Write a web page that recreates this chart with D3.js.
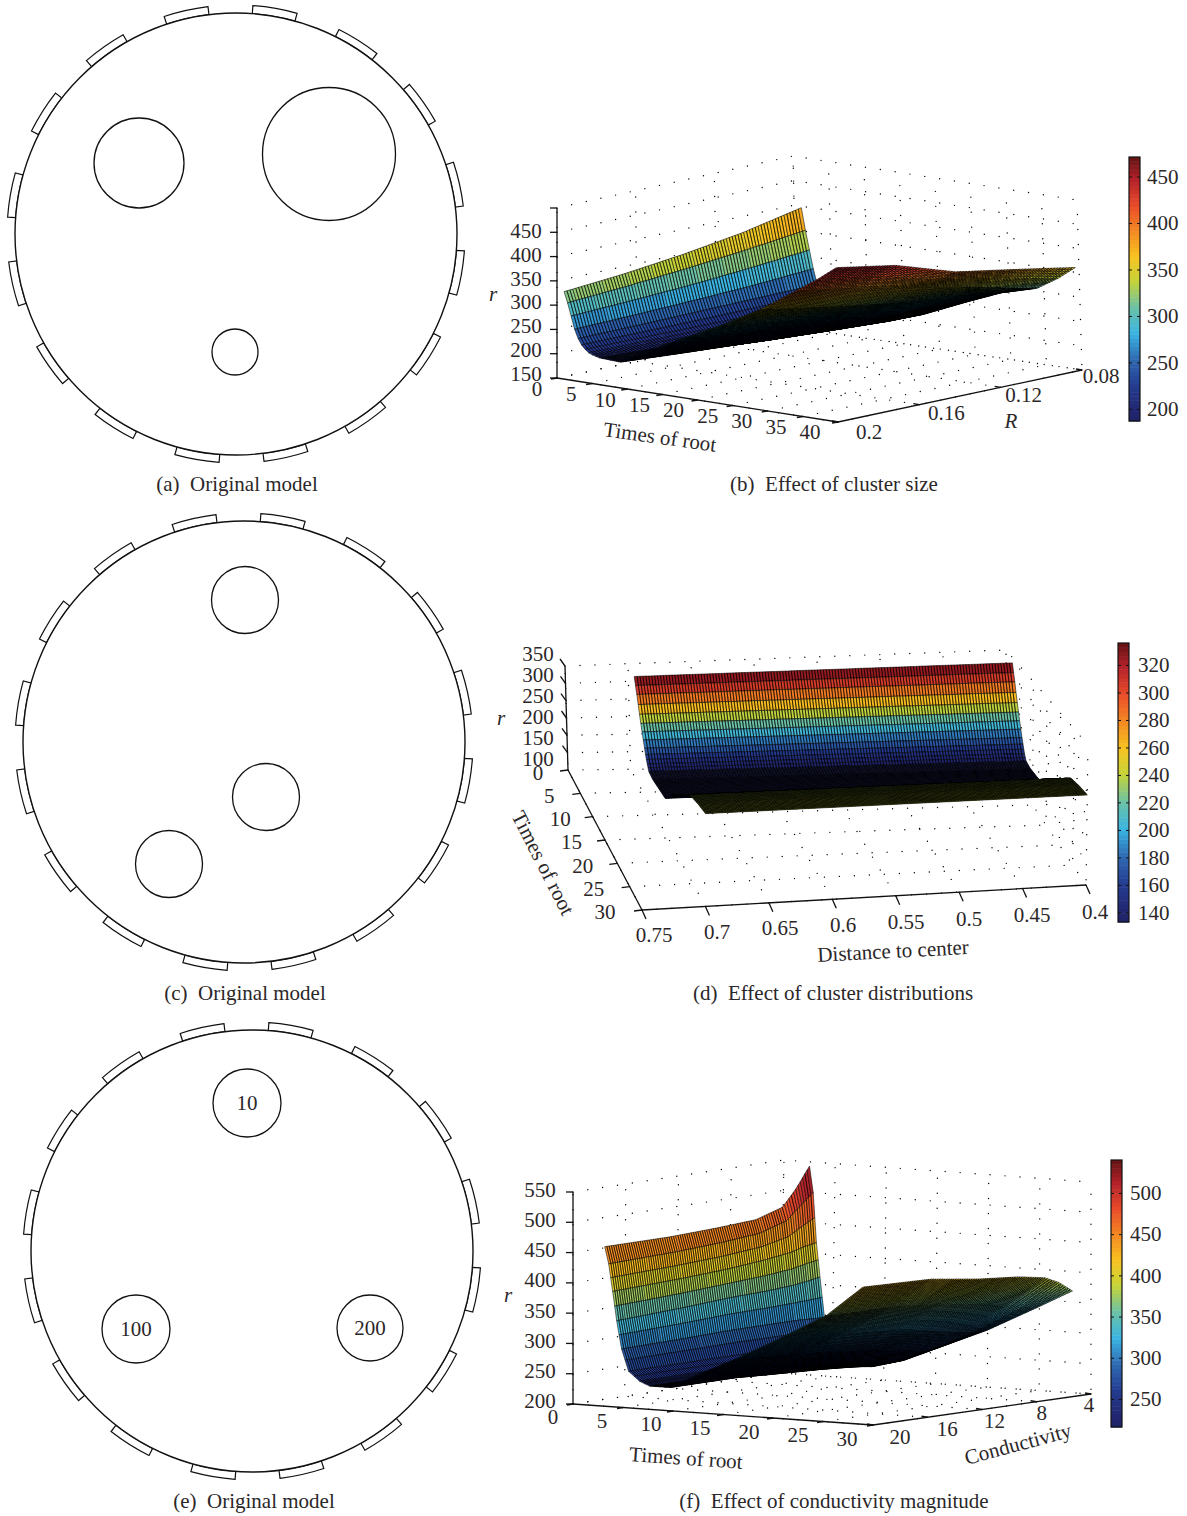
<!DOCTYPE html>
<html>
<head>
<meta charset="utf-8">
<script src="https://cdn.jsdelivr.net/npm/d3@7"></script>
<style>
  body { margin: 0; background: #fff; }
  text { font-family: "Liberation Serif", serif; fill: #2b2729; }
  .tick text { font-family: "Liberation Serif", serif; fill: #2b2729; }
</style>
</head>
<body>
<svg id="fig" width="1187" height="1516"></svg>
<script>
// ---- rotor models (left column) ----
var slotCount = 16;
var slotTurn = -1.4 * Math.PI / 180;
var modelACircles = [[139,163,45,""],[329,154,66.5,""],[235,352,23,""]];
var modelCCircles = [[245,600,33.5,""],[266,797,33.5,""],[169,864,33.5,""]];
var modelECircles = [[247,1103,34,"10"],[136,1329,34,"100"],[370,1328,33,"200"]];

var bTimes = [1,1.5,2,2.5,3,3.5,4,4.5,5,6,9,13,18,24,29,34,37,39.5];
var bSizes = [0.2,0.17,0.14,0.11,0.08];
var bRoot = [
  [330,340,354,372,397],
  [308,316,326,338,352],
  [282,287,293,302,313],
  [256,259,263,268,276],
  [238,239,241,243,245],
  [226,226,226,227,225],
  [218,217,216,214,212],
  [212,211,209,205,202],
  [209,207,203,198,195],
  [205,200,195,190,187],
  [203,195,188,182,180],
  [235,222,205,198,192],
  [272,255,240,225,217],
  [315,295,280,262,255],
  [356,335,315,300,285],
  [405,385,360,335,305],
  [435,415,382,360,332],
  [463,442,403,382,360]
];
var bRows = [1,1,1,1,1,1,1,1,2,10,18,26,30,30,22,8,6];
var bTimeTicks = [0,5,10,15,20,25,30,35,40];
var bSizeTicks = [0.2,0.16,0.12,0.08];
var bRootTicks = [150,200,250,300,350,400,450,500];
var bRootLabels = [150,200,250,300,350,400,450];
var bBarTicks = [200,250,300,350,400,450];

// ---- (d) cluster distributions ----
var dTimes = [2.35,2.8,3.25,3.7,4.15,4.6,5.05,5.5,5.95,6.3,6.6,6.9,7.2,7.5,9,11,14,16,18,20,22,24,27,30];
var dDists = [0.7,0.55,0.4];
var dCurve = [336,315,295,272,250,230,212,195,178,165,155,147,140,134,130,132,135,162,180,200,218,234,240,243];
var dRoot = dCurve.map(function(r){ return [r, r, r]; });
var dRows = [1,1,1,1,1,1,1,1,1,1,1,1,1,10,14,20,6,6,6,6,6,22,22];
var dTimeTicks = [0,5,10,15,20,25,30];
var dDistTicks = [0.75,0.7,0.65,0.6,0.55,0.5,0.45,0.4];
var dRootTicks = [100,150,200,250,300,350];
var dBarTicks = [140,160,180,200,220,240,260,280,300,320];

// ---- (f) conductivity magnitude ----
var fTimes = [2.5,2.9,3.3,3.7,4.2,4.9,6,7,9,12,15.5,20,24.6,28.2];
var fConds = [19.5,14.5,11,8,6,5,4];
var fRoot = [
  [461,461,464,468,482,509,543],
  [433,436,440,446,460,480,500],
  [388,392,396,402,408,414,418],
  [340,345,350,352,355,358,362],
  [294,296,298,298,298,297,296],
  [258,258,258,257,256,255,254],
  [243,243,242,241,240,238,236],
  [236,236,235,234,232,230,228],
  [236,236,232,229,226,224,221],
  [262,258,252,245,240,235,235],
  [290,285,277,270,262,258,261],
  [330,325,315,305,298,295,294],
  [373,372,365,355,348,340,335],
  [424,421,410,404,396,385,368]
];
var fRows = [1,2,2,2,2,2,2,4,16,22,26,30,26];
var fTimeTicks = [0,5,10,15,20,25,30];
var fCondTicks = [20,16,12,8,4];
var fRootTicks = [200,250,300,350,400,450,500,550];
var fBarTicks = [250,300,350,400,450,500];

// colour bar stops
var mapStops = [0,0.03,0.13,0.23,0.33,0.43,0.53,0.625,0.72,0.82,0.92,1];
var mapColors = ['#1f2368','#22266f','#243c90','#2f69b1','#3ab4e3','#6cc2a6','#c5d438','#f8c320','#f48b22','#ea4c2a','#b5222a','#6b1416'];
var jet = d3.scaleLinear().domain(mapStops).range(mapColors).interpolate(d3.interpolateRgb);

var labelSize = 21;
var svg = d3.select("#fig");

function drawModel(cx, cy, circles, caption, capX, capY) {
  var g = svg.append("g");
  var arc = d3.arc().innerRadius(221).outerRadius(229);
  var step = 2 * Math.PI / slotCount;
  g.selectAll("path.slot").data(d3.range(slotCount)).enter().append("path")
    .attr("class", "slot")
    .attr("transform", "translate(" + cx + "," + cy + ")")
    .attr("d", function(k) {
      var mid = step * k + step / 2 + slotTurn;
      return arc({startAngle: mid - step / 4, endAngle: mid + step / 4});
    })
    .attr("fill", "none").attr("stroke", "#111").attr("stroke-width", 1.2);
  g.append("circle").attr("cx", cx).attr("cy", cy).attr("r", 221)
    .attr("fill", "#fff").attr("stroke", "#111").attr("stroke-width", 1.4);
  g.selectAll("circle.hole").data(circles).enter().append("circle")
    .attr("class", "hole")
    .attr("cx", function(d){ return d[0]; }).attr("cy", function(d){ return d[1]; })
    .attr("r", function(d){ return d[2]; })
    .attr("fill", "none").attr("stroke", "#111").attr("stroke-width", 1.3);
  g.selectAll("text.val").data(circles).enter().append("text")
    .attr("class", "val")
    .attr("x", function(d){ return d[0]; }).attr("y", function(d){ return d[1] + 7; })
    .attr("text-anchor", "middle").attr("font-size", labelSize)
    .text(function(d){ return d[3]; });
  addCaption(caption, capX, capY);
}

function addCaption(s, x, y) {
  svg.append("text").attr("x", x).attr("y", y).attr("text-anchor", "middle")
    .attr("font-size", labelSize).style("white-space", "pre").text(s);
}

function drawSurface(p) {
  var g = svg.append("g");
  var tn = d3.scaleLinear().domain(p.tDomain).range([0, 1]);
  var vn = d3.scaleLinear().domain(p.vDomain).range([0, 1]);
  var zn = d3.scaleLinear().domain(p.zDomain).range([0, 1]);

  // corners of the box on screen, c[t][v][z]
  function project(t, v, z) {
    var a = tn(t), b = vn(v), w = zn(z), out = [0, 0];
    [0, 1].forEach(function(i){ [0, 1].forEach(function(j){ [0, 1].forEach(function(k){
      var f = (i ? a : 1 - a) * (j ? b : 1 - b) * (k ? w : 1 - w);
      out[0] += f * p.corners[i][j][k][0];
      out[1] += f * p.corners[i][j][k][1];
    }); }); });
    return out;
  }
  var line = d3.line();

  // dotted grid on floor and the two back walls
  function dotted(pts) {
    g.append("path").attr("d", line(pts)).attr("fill", "none")
      .attr("stroke", "#000").attr("stroke-width", 1.4)
      .attr("stroke-linecap", "round")
      .attr("stroke-dasharray", "0 " + p.dotGap);
  }
  var t0 = p.tDomain[0], t1 = p.tDomain[1], v0 = p.vDomain[0], v1 = p.vDomain[1], z0 = p.zDomain[0], z1 = p.zDomain[1];
  p.zTicks.forEach(function(z){
    dotted([project(t0,v0,z), project(t0,v1,z), project(t1,v1,z)]);
  });
  p.tTicks.forEach(function(t){
    dotted([project(t,v0,z0), project(t,v1,z0), project(t,v1,z1)]);
  });
  p.vTicks.forEach(function(v){
    dotted([project(t1,v,z0), project(t0,v,z0), project(t0,v,z1)]);
  });

  // solid axes and ticks
  function solid(a, b) {
    g.append("path").attr("d", line([a, b])).attr("fill", "none")
      .attr("stroke", "#111").attr("stroke-width", 1.3);
  }
  solid(project(t0,v0,z0), project(t0,v0,z1));
  solid(project(t0,v0,z0), project(t1,v0,z0));
  solid(project(t1,v0,z0), project(t1,v1,z0));
  p.zTicks.forEach(function(z){ var a = project(t0,v0,z); solid(a, [a[0]+p.zTick[0], a[1]+p.zTick[1]]); });
  p.tTicks.forEach(function(t){ var a = project(t,v0,z0); solid(a, [a[0]+p.tTick[0], a[1]+p.tTick[1]]); });
  p.vTicks.forEach(function(v){ var a = project(t1,v,z0); solid(a, [a[0]+p.vTick[0], a[1]+p.vTick[1]]); });

  // mesh rows and columns are refined from the values read at the knots
  var meshT = [];
  p.rows.forEach(function(n, i){
    var s = d3.scaleLinear().domain([0, n]).range([p.times[i], p.times[i+1]]);
    d3.range(n).forEach(function(k){ meshT.push(s(k)); });
  });
  meshT.push(p.times[p.times.length - 1]);
  var colScale = d3.scaleLinear().domain([0, p.cols]).range([p.params[0], p.params[p.params.length-1]]);
  var meshV = d3.range(p.cols + 1).map(colScale);

  var colAtKnots = p.params.map(function(_, j){
    return d3.scaleLinear().domain(p.times).range(p.values.map(function(r){ return r[j]; }));
  });
  var byParam = function(t) {
    return d3.scaleLinear().domain(p.params).range(colAtKnots.map(function(s){ return s(t); }));
  };
  var grid = meshT.map(function(t){ var f = byParam(t); return meshV.map(f); });

  var level = d3.scaleQuantize().domain(p.bar.domain).range(d3.range(64));
  var barFrac = d3.scaleLinear().domain([0, 63]).range([0, 1]);

  // back to front: low t first, far columns first
  meshT.forEach(function(t, i){
    if (i == meshT.length - 1) return;
    var groups = {};
    d3.range(p.cols).reverse().forEach(function(j){
      var vals = [grid[i][j], grid[i][j+1], grid[i+1][j+1], grid[i+1][j]];
      var idx = level(d3.mean(vals));
      var a = project(t, meshV[j], vals[0]), b = project(t, meshV[j+1], vals[1]);
      var c = project(meshT[i+1], meshV[j+1], vals[2]), d = project(meshT[i+1], meshV[j], vals[3]);
      (groups[idx] = groups[idx] || []).push("M" + [a, b, c, d].map(function(q){ return q[0].toFixed(1) + "," + q[1].toFixed(1); }).join("L") + "Z");
    });
    Object.keys(groups).forEach(function(idx){
      g.append("path").attr("d", groups[idx].join(""))
        .attr("fill", jet(barFrac(+idx)))
        .attr("stroke", "#000").attr("stroke-width", p.meshWidth).attr("stroke-linejoin", "bevel");
    });
  });

  // tick labels
  function labels(ticks, from, to, fmt) {
    var lx = d3.scaleLinear().domain([ticks[0], ticks[ticks.length-1]]).range([from[0], to[0]]);
    var ly = d3.scaleLinear().domain([ticks[0], ticks[ticks.length-1]]).range([from[1], to[1]]);
    g.selectAll(null).data(ticks).enter().append("text")
      .attr("x", lx).attr("y", ly).attr("dy", "0.33em").attr("text-anchor", "middle")
      .attr("font-size", labelSize).text(fmt);
  }
  labels(p.zLabelTicks || p.zTicks, p.zLabels[0], p.zLabels[1], String);
  labels(p.tTicks, p.tLabels[0], p.tLabels[1], String);
  labels(p.vTicks, p.vLabels[0], p.vLabels[1], String);

  p.names.forEach(function(n){
    svg.append("text").attr("transform", "translate(" + n.x + "," + n.y + ") rotate(" + n.rot + ")")
      .attr("text-anchor", "middle").attr("dy", "0.33em").attr("font-size", labelSize)
      .attr("font-style", n.italic ? "italic" : "normal").text(n.s);
  });

  // colour bar
  var b = p.bar;
  var yBar = d3.scaleLinear().domain(b.domain).range([b.y1, b.y0]);
  var bandH = (b.y1 - b.y0) / 64;
  svg.append("g").selectAll("rect").data(d3.range(64)).enter().append("rect")
    .attr("x", b.x).attr("width", b.w)
    .attr("y", function(k){ return b.y1 - (k + 1) * bandH; })
    .attr("height", bandH + 0.5)
    .attr("fill", function(k){ return jet(barFrac(k)); });
  svg.append("rect").attr("x", b.x).attr("y", b.y0).attr("width", b.w).attr("height", b.y1 - b.y0)
    .attr("fill", "none").attr("stroke", "#111").attr("stroke-width", 1.2);
  var ax = svg.append("g").attr("transform", "translate(" + (b.x + b.w) + ",0)")
    .call(d3.axisRight(yBar).tickValues(b.ticks).tickSize(-3).tickPadding(b.pad).tickFormat(String));
  ax.select(".domain").remove();
  ax.selectAll("text").attr("font-size", labelSize).attr("fill", "#2b2729");
  ax.selectAll("line").attr("stroke", "#111");
  svg.append("g").attr("transform", "translate(" + b.x + ",0)")
    .call(d3.axisRight(yBar).tickValues(b.ticks).tickSize(3).tickFormat(""))
    .call(function(s){ s.select(".domain").remove(); s.selectAll("line").attr("stroke", "#111"); });
}

drawModel(236, 234, modelACircles, "(a)  Original model", 237, 491);
drawModel(244, 742, modelCCircles, "(c)  Original model", 245, 1000);
drawModel(252, 1251, modelECircles, "(e)  Original model", 254, 1508);
addCaption("(b)  Effect of cluster size", 834, 491);
addCaption("(d)  Effect of cluster distributions", 833, 1000);
addCaption("(f)  Effect of conductivity magnitude", 834, 1508);

drawSurface({
  tDomain: [0, 40], vDomain: [0.2, 0.08], zDomain: [150, 500],
  corners: [[[[557,378],[557,208]], [[797,328],[793,156]]], [[[838,422],[840,250]], [[1082,370],[1077,200]]]],
  times: bTimes, params: bSizes, values: bRoot, rows: bRows, cols: 82, meshWidth: 0.55,
  tTicks: bTimeTicks, vTicks: bSizeTicks, zTicks: bRootTicks, zLabelTicks: bRootLabels, dotGap: 15,
  zTick: [-7, 0], tTick: [-6, 1], vTick: [-6, -1],
  zLabels: [[526, 374], [526, 231]], tLabels: [[537, 389], [810, 432]], vLabels: [[869, 432], [1101, 376]],
  names: [{s: "Times of root", x: 660, y: 437, rot: 8}, {s: "R", x: 1011, y: 421, rot: 0, italic: true}, {s: "r", x: 493, y: 294, rot: 0, italic: true}],
  bar: {x: 1129, w: 11, y0: 157, y1: 421, domain: [187, 471], ticks: bBarTicks, pad: 7}
});

drawSurface({
  tDomain: [0, 30], vDomain: [0.75, 0.4], zDomain: [50, 350],
  corners: [[[[568,770],[565,666]], [[1006,765],[1006,650]]], [[[642,910],[642,765]], [[1086,885],[1088,745]]]],
  times: dTimes, params: dDists, values: dRoot, rows: dRows, cols: 130, meshWidth: 0.55,
  tTicks: dTimeTicks, vTicks: dDistTicks, zTicks: dRootTicks, dotGap: 15,
  zTick: [-5, -7], tTick: [-8, 1], vTick: [4, 9],
  zLabels: [[538, 759], [538, 654]], tLabels: [[538, 773], [605, 912]], vLabels: [[654, 935], [1095, 912]],
  names: [{s: "Times of root", x: 543, y: 863, rot: 63}, {s: "Distance to center", x: 893, y: 951, rot: -3}, {s: "r", x: 501, y: 718, rot: 0, italic: true}],
  bar: {x: 1118, w: 11, y0: 643, y1: 922, domain: [133, 336], ticks: dBarTicks, pad: 9}
});

drawSurface({
  tDomain: [0, 30], vDomain: [20, 4], zDomain: [200, 550],
  corners: [[[[573,1404],[573,1192]], [[780,1373],[784,1160]]], [[[873,1425],[875,1213]], [[1091,1394],[1091,1182]]]],
  times: fTimes, params: fConds, values: fRoot, rows: fRows, cols: 92, meshWidth: 0.55,
  tTicks: fTimeTicks, vTicks: fCondTicks, zTicks: fRootTicks, dotGap: 15,
  zTick: [-7, 0], tTick: [-6, 1], vTick: [-6, -1],
  zLabels: [[540, 1401], [540, 1190]], tLabels: [[553, 1417], [847, 1439]], vLabels: [[900, 1437], [1089, 1405]],
  names: [{s: "Times of root", x: 686, y: 1458, rot: 4}, {s: "Conductivity", x: 1018, y: 1444, rot: -15}, {s: "r", x: 508, y: 1295, rot: 0, italic: true}],
  bar: {x: 1111, w: 11, y0: 1160, y1: 1427, domain: [216, 540], ticks: fBarTicks, pad: 8}
});
</script>
</body>
</html>
